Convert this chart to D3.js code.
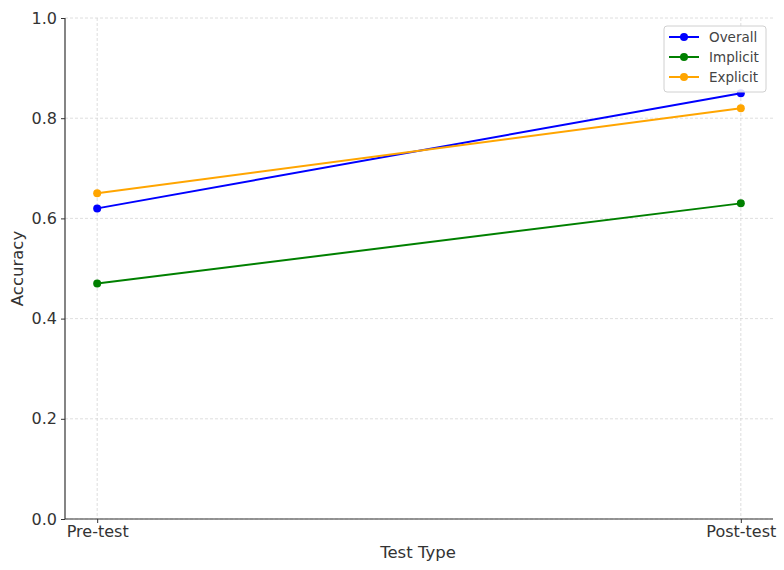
<!DOCTYPE html>
<html><head><meta charset="utf-8">
<script src="https://cdn.jsdelivr.net/npm/d3@7"></script>
<style>
html,body{margin:0;padding:0;background:#fff;}
svg{display:block;font-family:"DejaVu Sans",sans-serif;}
</style></head>
<body><svg id="c" width="784" height="570"></svg>
<script>
const categories = ["Pre-test", "Post-test"];
const overall = [0.62, 0.85];
const implicit = [0.47, 0.63];
const explicit = [0.65, 0.82];
const yTicks = [0.0, 0.2, 0.4, 0.6, 0.8, 1.0];
const seriesNames = ["Overall", "Implicit", "Explicit"];
const seriesColors = ["#0000ff", "#008000", "#ffa500"];
const seriesValues = [overall, implicit, explicit];

const svg = d3.select("#c");
const L = 65, R = 773, T = 18, B = 519;
const x = d3.scalePoint().domain(categories).range([L, R]).padding(0.05);
const y = d3.scaleLinear().domain([0, 1]).range([B, T]);

// grid
const g = svg.append("g");
g.selectAll(".hg").data(yTicks).enter().append("line")
  .attr("x1", L).attr("x2", R).attr("y1", d => y(d)).attr("y2", d => y(d))
  .attr("stroke", "#d6d6d6").attr("stroke-width", 0.8).attr("stroke-dasharray", "3,2");
g.selectAll(".vg").data(categories).enter().append("line")
  .attr("x1", d => x(d)).attr("x2", d => x(d)).attr("y1", T).attr("y2", B)
  .attr("stroke", "#d6d6d6").attr("stroke-width", 0.8).attr("stroke-dasharray", "3,2");

// axes
const yAxis = svg.append("g").attr("transform", `translate(${L},0)`)
  .call(d3.axisLeft(y).tickValues(yTicks).tickFormat(d3.format(".1f")).tickSize(4).tickPadding(4));
yAxis.select(".domain").attr("stroke", "#333").attr("stroke-width", 1.2).attr("d", `M0,${B}V${T}`);
yAxis.selectAll(".tick line").attr("stroke", "#333");
yAxis.selectAll("text").attr("font-size", 16).attr("fill", "#333").attr("font-family", "DejaVu Sans");

const xAxis = svg.append("g").attr("transform", `translate(0,${B})`)
  .call(d3.axisBottom(x).tickSize(4).tickPadding(3));
xAxis.select(".domain").attr("stroke", "#333").attr("stroke-width", 1.2).attr("d", `M${L},0H${R}`);
xAxis.selectAll(".tick line").attr("stroke", "#333");
xAxis.selectAll("text").attr("font-size", 16).attr("fill", "#333").attr("font-family", "DejaVu Sans");

svg.append("text").attr("x", 418).attr("y", 558).attr("text-anchor", "middle")
  .attr("font-size", 16.5).attr("fill", "#333").text("Test Type");
svg.append("text").attr("transform", `translate(23,${(T + B) / 2}) rotate(-90)`).attr("text-anchor", "middle")
  .attr("font-size", 16.5).attr("fill", "#333").text("Accuracy");

// series
const line = d3.line().x((d, i) => x(categories[i])).y(d => y(d));
seriesValues.forEach((vals, k) => {
  svg.append("path").datum(vals).attr("d", line).attr("fill", "none")
    .attr("stroke", seriesColors[k]).attr("stroke-width", 2);
  svg.selectAll(".m" + k).data(vals).enter().append("circle")
    .attr("cx", (d, i) => x(categories[i])).attr("cy", d => y(d)).attr("r", 4)
    .attr("fill", seriesColors[k]);
});

// legend
const lg = svg.append("g").attr("transform", "translate(664,26)");
lg.append("rect").attr("x", 0).attr("y", 0).attr("width", 102).attr("height", 66).attr("rx", 3)
  .attr("fill", "#fff").attr("fill-opacity", 0.85).attr("stroke", "#d0d0d0");
seriesNames.forEach((n, k) => {
  const yy = 11 + k * 20;
  lg.append("line").attr("x1", 5).attr("x2", 35).attr("y1", yy).attr("y2", yy)
    .attr("stroke", seriesColors[k]).attr("stroke-width", 2);
  lg.append("circle").attr("cx", 20).attr("cy", yy).attr("r", 4).attr("fill", seriesColors[k]);
  lg.append("text").attr("x", 45).attr("y", yy + 5).attr("font-size", 13.5).attr("fill", "#444").text(n);
});
</script></body></html>
